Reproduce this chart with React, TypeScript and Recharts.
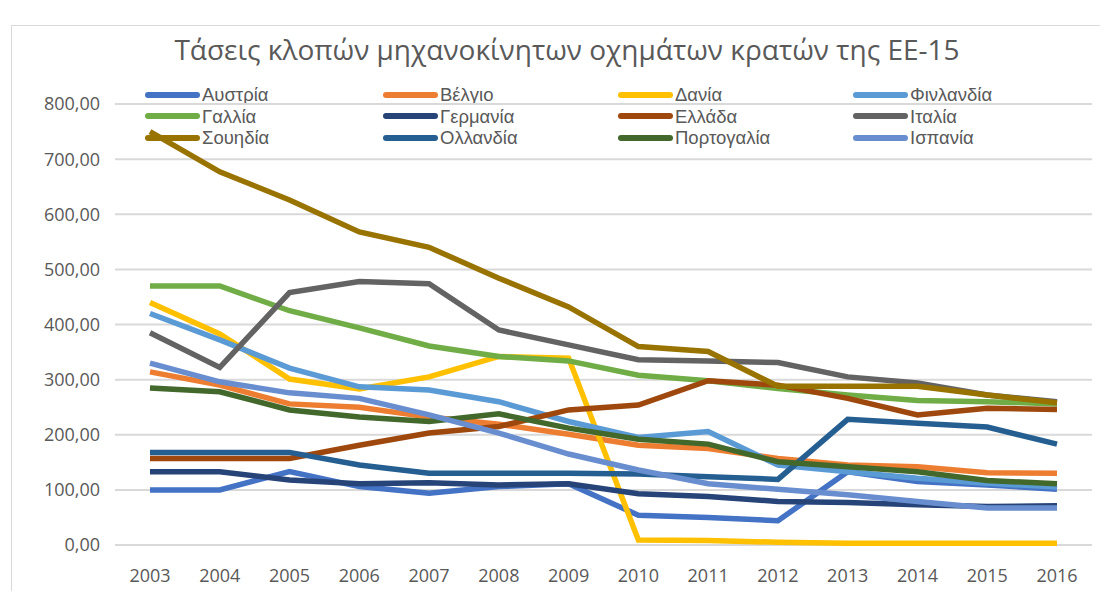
import { LineChart, Line, XAxis, YAxis, CartesianGrid } from "recharts";

// years on the category axis
const years = ["2003", "2004", "2005", "2006", "2007", "2008", "2009", "2010", "2011", "2012", "2013", "2014", "2015", "2016"];

// thefts per country
const austria = [100, 100, 133, 106, 94, 106, 111, 54, 50, 44, 133, 115, 109, 101];
const belgium = [314, 290, 256, 250, 232, 219, 201, 181, 175, 157, 145, 142, 131, 130];
const denmark = [440, 383, 301, 283, 305, 342, 339, 9, 8, 5, 3, 3, 3, 3];
const finland = [420, 372, 321, 287, 281, 260, 224, 195, 206, 145, 133, 121, 112, 105];
const france = [470, 470, 425, 394, 361, 342, 334, 308, 298, 284, 272, 262, 260, 256];
const germany = [133, 133, 118, 111, 113, 109, 111, 93, 88, 79, 77, 73, 70, 71];
const greece = [157, 157, 157, 181, 203, 215, 245, 254, 298, 290, 266, 236, 248, 246];
const italy = [385, 322, 458, 478, 474, 390, 363, 336, 334, 331, 305, 294, 272, 260];
const sweden = [750, 677, 626, 568, 540, 484, 432, 360, 351, 288, 288, 288, 272, 258];
const netherlands = [168, 168, 168, 145, 130, 130, 130, 129, 124, 119, 228, 221, 214, 183];
const portugal = [285, 278, 245, 232, 224, 238, 212, 192, 183, 151, 142, 133, 117, 111];
const spain = [330, 296, 276, 266, 236, 203, 165, 136, 111, 101, 91, 79, 67, 67];

const yTicks = [0, 100, 200, 300, 400, 500, 600, 700, 800];

const countries: [string, number[]][] = [
  ["Αυστρία", austria],
  ["Βέλγιο", belgium],
  ["Δανία", denmark],
  ["Φινλανδία", finland],
  ["Γαλλία", france],
  ["Γερμανία", germany],
  ["Ελλάδα", greece],
  ["Ιταλία", italy],
  ["Σουηδία", sweden],
  ["Ολλανδία", netherlands],
  ["Πορτογαλία", portugal],
  ["Ισπανία", spain],
];

const colors: Record<string, string> = {
  "Αυστρία": "#4472C4",
  "Βέλγιο": "#ED7D31",
  "Δανία": "#FFC000",
  "Φινλανδία": "#5B9BD5",
  "Γαλλία": "#70AD47",
  "Γερμανία": "#264478",
  "Ελλάδα": "#9E480E",
  "Ιταλία": "#636363",
  "Σουηδία": "#997300",
  "Ολλανδία": "#255E91",
  "Πορτογαλία": "#43682B",
  "Ισπανία": "#698ED0",
};

const data = years.map((year, i) => {
  const row: Record<string, string | number> = { year };
  countries.forEach(([name, values]) => {
    row[name] = values[i];
  });
  return row;
});

const FONT = "'Open Sans', sans-serif";
const LEGEND_FONT = "'Liberation Sans', Arial, sans-serif";
const TEXT = "#595959";

const fmt = (v: number) => v.toFixed(2).replace(".", ",");

// legend drawn as an overlay (4 columns x 3 rows, in series order)
function LegendBox() {
  return (
    <div
      style={{
        position: "absolute",
        left: 145,
        top: 84,
        display: "grid",
        gridTemplateColumns: "238px 235px 235px 235px",
        fontFamily: LEGEND_FONT,
        fontSize: 18.5,
        lineHeight: "21px",
        color: TEXT,
      }}
    >
      {countries.map(([name]) => (
        <div key={name} style={{ display: "flex", alignItems: "center", height: 21.5 }}>
          <span
            style={{
              display: "inline-block",
              width: 55,
              height: 6,
              borderRadius: 3,
              background: colors[name],
              marginRight: 2,
            }}
          />
          <span style={{ lineHeight: "21px" }}>{name}</span>
        </div>
      ))}
    </div>
  );
}

export default function App() {
  return (
    <div
      style={{
        position: "relative",
        width: 1108,
        height: 599,
        margin: -8,
        background: "#ffffff",
        overflow: "hidden",
      }}
    >
      {/* frame */}
      <div
        style={{
          position: "absolute",
          left: 11,
          top: 25,
          width: 1200,
          height: 700,
          borderLeft: "1.5px solid #d9d9d9",
          borderTop: "1.5px solid #d9d9d9",
        }}
      />

      {/* title */}
      <div
        style={{
          position: "absolute",
          left: 0,
          top: 30,
          width: 1134,
          textAlign: "center",
          fontFamily: FONT,
          fontSize: 28,
          color: TEXT,
        }}
      >
        Τάσεις κλοπών μηχανοκίνητων οχημάτων κρατών της ΕΕ-15
      </div>

      <LegendBox />

      <div style={{ position: "absolute", left: 0, top: 0 }}>
        <LineChart
          width={1108}
          height={599}
          data={data}
          margin={{ top: 104, right: 16, bottom: 0, left: 0 }}
        >
          <CartesianGrid vertical={false} stroke="#d9d9d9" strokeWidth={2} />
          <XAxis
            dataKey="year"
            axisLine={false}
            tickLine={false}
            tickSize={0}
            tickMargin={24}
            height={54}
            padding={{ left: 35, right: 35 }}
            interval={0}
            tick={{ fill: TEXT, fontSize: 18, fontFamily: FONT }}
          />
          <YAxis
            domain={[0, 800]}
            ticks={yTicks}
            width={115}
            axisLine={false}
            tickLine={false}
            tickSize={0}
            tickMargin={15}
            tickFormatter={fmt}
            tick={{ fill: TEXT, fontSize: 18, fontFamily: FONT }}
          />
          {countries.map(([name]) => (
            <Line
              key={name}
              type="linear"
              dataKey={name}
              name={name}
              stroke={colors[name]}
              strokeWidth={5.5}
              dot={false}
              isAnimationActive={false}
            />
          ))}
        </LineChart>
      </div>
    </div>
  );
}
